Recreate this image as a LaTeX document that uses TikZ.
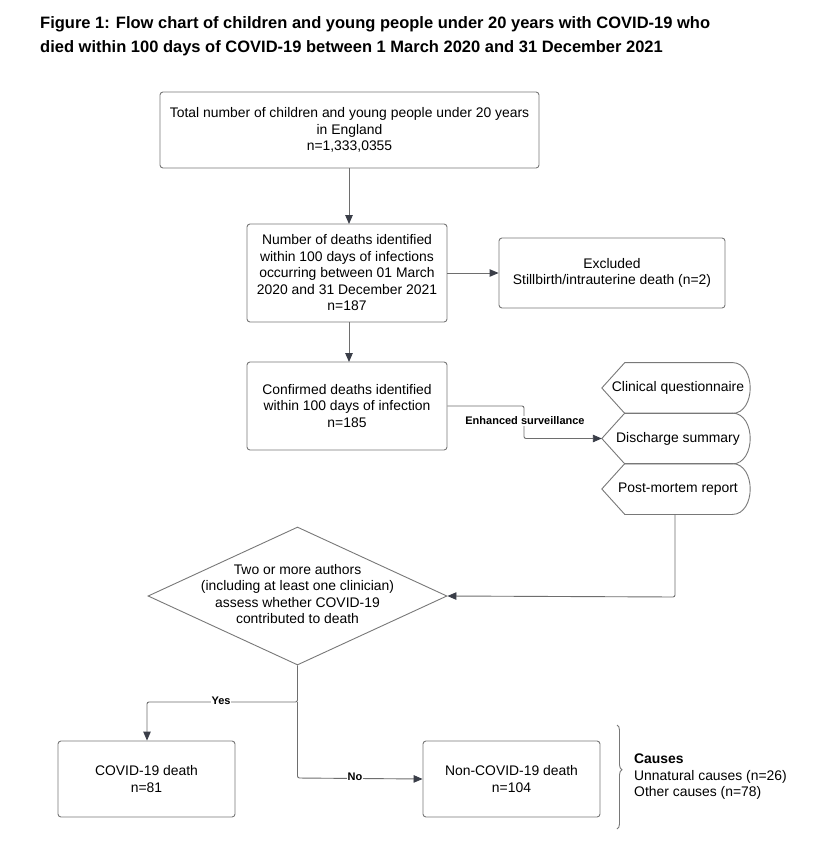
\documentclass[tikz,border=0pt]{standalone}
\usepackage{fontspec}
\setmainfont{Liberation Sans}
\usetikzlibrary{shapes.geometric,arrows.meta,decorations.pathreplacing}
\definecolor{linec}{RGB}{110,110,110}
\definecolor{boxc}{RGB}{120,120,120}
\definecolor{tipc}{RGB}{58,62,72}
\tikzset{
  box/.style={draw=boxc, line width=0.9pt, rounded corners=3pt, align=center, inner sep=0pt, font=\fontsize{13.9}{16.5}\selectfont},
  disp/.style={align=center, inner sep=0pt, minimum width=148pt, minimum height=50.5pt, font=\fontsize{13.9}{16.5}\selectfont},
  conn/.style={draw=linec, line width=0.9pt, rounded corners=2pt},
  arr/.style={conn, -{Triangle[length=9pt,width=7.5pt,color=tipc]}},
  lbl/.style={fill=white, inner sep=1pt, font=\bfseries\fontsize{11}{13}\selectfont},
}
\begin{document}
\begin{tikzpicture}[x=1pt,y=-1pt]
\useasboundingbox (0,0) rectangle (826,846);
\fill[white] (0,0) rectangle (826,846);
% title
\node[anchor=base west, inner sep=0pt, align=left, font=\bfseries\fontsize{16.5}{23.5}\selectfont] (title) at (40,52)
  {Figure 1: Flow chart of children and young people under 20 years with COVID-19 who\\died within 100 days of COVID-19 between 1 March 2020 and 31 December 2021};
% boxes
\node[box, minimum width=379pt, minimum height=76pt] (b1) at (349.5,130)
  {Total number of children and young people under 20 years\\in England\\n=1,333,0355};
\node[box, minimum width=200pt, minimum height=98pt] (b2) at (347,273)
  {Number of deaths identified\\within 100 days of infections\\occurring between 01 March\\2020 and 31 December 2021\\n=187};
\node[box, minimum width=226pt, minimum height=70pt] (ex) at (612,273)
  {Excluded\\Stillbirth/intrauterine death (n=2)};
\node[box, minimum width=200pt, minimum height=88pt] (b3) at (347,406)
  {Confirmed deaths identified\\within 100 days of infection\\n=185};
% display shapes
\node[disp] (d1) at (676,388) {\hspace*{4pt}Clinical questionnaire};
\node[disp] (d2) at (676,438.5) {\hspace*{4pt}Discharge summary};
\node[disp] (d3) at (676,489) {\hspace*{4pt}Post-mortem report};
\foreach \n in {d1,d2,d3}{
  \draw[draw=boxc, line width=0.9pt, line join=round]
    (\n.west) -- ([xshift=23pt]\n.north west) -- ([xshift=-18pt]\n.north east)
    to[out=0,in=90] (\n.east) to[out=-90,in=0] ([xshift=-18pt]\n.south east)
    -- ([xshift=23pt]\n.south west) -- cycle;
}
% diamond
\node[draw=boxc, line width=0.9pt, diamond, aspect=2.17, minimum width=299pt, minimum height=138pt, inner sep=0pt] (dia) at (297.5,596) {};
\node[align=center, inner sep=0pt, font=\fontsize{13.9}{16.5}\selectfont] (diatext) at (297.5,594)
  {Two or more authors\\(including at least one clinician)\\assess whether COVID-19\\contributed to death};
% outcome boxes
\node[box, minimum width=177pt, minimum height=76pt] (c1) at (146.5,779) {COVID-19 death\\n=81};
\node[box, minimum width=177pt, minimum height=76pt] (c2) at (511.5,779) {Non-COVID-19 death\\n=104};
% causes
\node[anchor=west, align=left, inner sep=0pt, font=\fontsize{13.9}{16.5}\selectfont] (causes) at (634,777)
  {\textbf{Causes}\\Unnatural causes (n=26)\\Other causes (n=78)};
\draw[draw=boxc, line width=0.9pt, decorate, decoration={brace, amplitude=5pt, aspect=0.43}] (617,725) -- (617,829);
% connectors
\coordinate (es1) at (524,406);
\coordinate (pm) at (675,597);
\coordinate (split) at (297.5,702);
\coordinate (yesc) at (147,702);
\coordinate (noc) at (297.5,778);
\draw[arr] (b1.south -| 349,0) -- (349,224);
\draw[arr] (b2.south -| 349,0) -- (349,362);
\draw[arr] (b2.east) -- (ex.west);
\draw[arr] (b3.east) -- (es1) -- (es1 |- d2.west) -- (d2.west);
\node[lbl] (esl) at (525,421) {Enhanced surveillance};
\draw[arr] (d3.south -| pm) -- (pm) -- (dia.east);
\draw[arr] (dia.south) -- (split) -- (yesc) -- (yesc |- c1.north);
\draw[arr] (split) -- (noc) -- (c2.west);
\node[lbl] (yes) at (221,701) {Yes};
\node[lbl] (no) at (355,777) {No};
\end{tikzpicture}
\end{document}
